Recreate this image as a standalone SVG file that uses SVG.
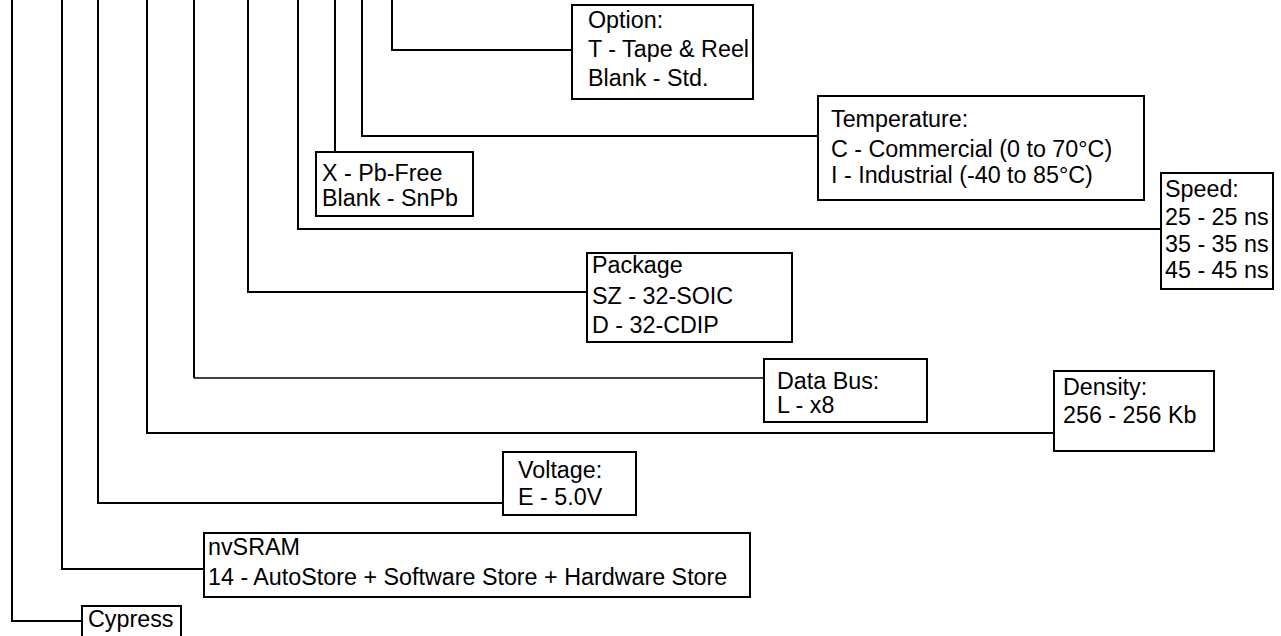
<svg xmlns="http://www.w3.org/2000/svg" width="1281" height="636" viewBox="0 0 1281 636">
<style>
.box{fill:#fff;stroke:#000;stroke-width:2}
.ln{fill:none;stroke:#000;stroke-width:2}
.thin{stroke-width:1.3}
text{font-family:"Liberation Sans",Arial,sans-serif;font-size:23.3px;fill:#000}
</style>
<rect width="1281" height="636" fill="#fff"/>
<g id="connectors">
<polyline class="ln" points="12,0 12,621 82,621"/>
<polyline class="ln" points="62,0 62,569 204,569"/>
<polyline class="ln" points="98,0 98,503 503,503"/>
<polyline class="ln" points="147,0 147,433 1054,433"/>
<polyline class="ln" points="194,0 194,378"/>
<polyline class="ln thin" points="194,378 764,378"/>
<polyline class="ln" points="248,0 248,292 587,292"/>
<polyline class="ln" points="298,0 298,229 1161,229"/>
<polyline class="ln" points="335,0 335,152"/>
<polyline class="ln" points="362,0 362,136 818,136"/>
<polyline class="ln" points="392,0 392,50 572,50"/>
</g>
<g id="option"><rect class="box" x="572" y="5" width="181" height="94"/>
<text x="588" y="28">Option:</text><text x="588" y="57">T - Tape &amp; Reel</text><text x="588" y="86">Blank - Std.</text></g>
<g id="temperature"><rect class="box" x="818" y="96" width="326" height="104"/>
<text x="831" y="127">Temperature:</text><text x="831" y="157">C - Commercial (0 to 70°C)</text><text x="831" y="183">I - Industrial (-40 to 85°C)</text></g>
<g id="pbfree"><rect class="box" x="316" y="152" width="157" height="64"/>
<text x="322" y="181">X - Pb-Free</text><text x="322" y="206">Blank - SnPb</text></g>
<g id="speed"><rect class="box" x="1161" y="173" width="112" height="116"/>
<text x="1165" y="197">Speed:</text><text x="1165" y="225">25 - 25 ns</text><text x="1165" y="252">35 - 35 ns</text><text x="1165" y="278">45 - 45 ns</text></g>
<g id="package"><rect class="box" x="587" y="253" width="205" height="89"/>
<text x="592" y="273">Package</text><text x="592" y="304">SZ - 32-SOIC</text><text x="592" y="333">D - 32-CDIP</text></g>
<g id="databus"><rect class="box" x="764" y="359" width="163" height="63"/>
<text x="777" y="389">Data Bus:</text><text x="777" y="413">L - x8</text></g>
<g id="density"><rect class="box" x="1054" y="371" width="160" height="80"/>
<text x="1063" y="395">Density:</text><text x="1063" y="423">256 - 256 Kb</text></g>
<g id="voltage"><rect class="box" x="503" y="452" width="133" height="63"/>
<text x="518" y="478">Voltage:</text><text x="518" y="505">E - 5.0V</text></g>
<g id="nvsram"><rect class="box" x="204" y="533" width="546" height="64"/>
<text x="208" y="555">nvSRAM</text><text x="208" y="585">14 - AutoStore + Software Store + Hardware Store</text></g>
<g id="cypress"><rect class="box" x="82" y="606" width="99" height="36"/>
<text x="88" y="627">Cypress</text></g>
</svg>
